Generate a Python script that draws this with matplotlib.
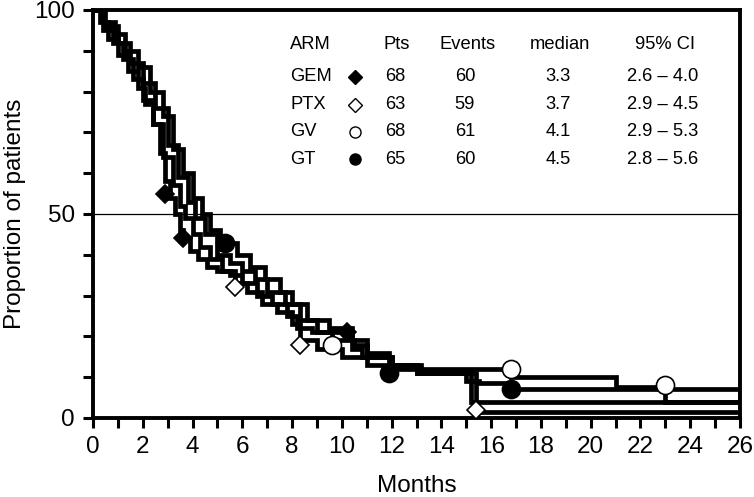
import matplotlib
matplotlib.use("Agg")
import matplotlib.pyplot as plt
from matplotlib.ticker import MultipleLocator

plt.rcParams['font.family'] = ['Liberation Sans', 'DejaVu Sans']

# Kaplan-Meier step data (months, % of patients)
gem_t = [0, 0.3, 0.6, 1.0, 1.4, 1.8, 2.1, 2.4, 2.7, 2.9, 3.1, 3.3, 3.5, 3.6, 3.9, 4.2, 4.6, 5.0, 5.5, 6.0, 6.6, 7.2, 7.8, 8.2, 8.8, 9.5, 10.4, 10.8, 12.0, 13.0, 15.2, 26]
gem_s = [100, 97, 93, 89, 85, 81, 77, 72, 65, 58, 54, 50, 46, 44, 41, 39, 37, 36, 35, 33, 30, 28, 25, 22, 21, 21, 17, 15, 13, 11, 4, 4]

ptx_t = [0, 0.4, 0.8, 1.2, 1.6, 2.0, 2.4, 2.8, 3.2, 3.5, 3.7, 4.0, 4.3, 4.7, 5.2, 5.7, 6.2, 6.8, 7.4, 8.0, 8.3, 9.0, 10.0, 11.0, 13.0, 15.4, 26]
ptx_s = [100, 95, 92, 88, 83, 78, 72, 64, 57, 52, 49, 45, 42, 39, 36, 33, 31, 28, 26, 23, 19, 17, 15, 13, 11, 1.5, 1.5]

gv_t = [0, 0.5, 1.0, 1.5, 2.0, 2.5, 3.0, 3.4, 3.8, 4.1, 4.5, 5.0, 5.5, 6.0, 6.5, 7.0, 7.7, 8.3, 9.0, 9.6, 10.5, 11.0, 12.0, 13.2, 15.2, 16.8, 21.0, 23.0, 26]
gv_s = [100, 96, 92, 87, 82, 76, 67, 59, 53, 49, 45, 40, 38, 36, 34, 31, 28, 24, 21, 19, 18, 15, 13, 12, 12, 10, 7.6, 4, 4]

gt_t = [0, 0.4, 0.9, 1.3, 1.8, 2.3, 2.8, 3.2, 3.6, 4.0, 4.4, 4.7, 5.1, 5.3, 5.8, 6.3, 6.9, 7.5, 8.0, 8.6, 9.5, 10.4, 11.0, 11.9, 13.0, 15.0, 15.5, 16.8, 26]
gt_s = [100, 97, 94, 90, 86, 80, 74, 66, 60, 54, 50, 46, 44, 43, 40, 37, 34, 31, 28, 24, 22, 19, 16, 12, 11, 9, 8.6, 7, 4]

# marker points along each curve
gem_mx, gem_my = [2.9, 3.6, 10.2], [55, 44, 21]
ptx_mx, ptx_my = [5.7, 8.3, 15.4], [32, 18, 2]
gv_mx, gv_my = [9.6, 16.8, 23.0], [18, 12, 8]
gt_mx, gt_my = [5.3, 11.9, 16.8], [43, 11, 7]

# summary table
arms = ['GEM', 'PTX', 'GV', 'GT']
pts = ['68', '63', '68', '65']
events = ['60', '59', '61', '60']
medians = ['3.3', '3.7', '4.1', '4.5']
ci = ['2.6 \u2013 4.0', '2.9 \u2013 4.5', '2.9 \u2013 5.3', '2.8 \u2013 5.6']

fig = plt.figure(figsize=(7.54, 4.97), dpi=100)
ax = fig.add_axes([93 / 754, 79 / 497, 647 / 754, 408 / 497])

ax.axhline(50, color='black', lw=0.9, zorder=1)

curves = [(gem_t, gem_s), (ptx_t, ptx_s), (gv_t, gv_s), (gt_t, gt_s)]
for t, s in curves:
    ax.plot(t, s, drawstyle='steps-post', color='black', lw=3.4,
            solid_joinstyle='miter', zorder=2)

mk = [(gem_mx, gem_my, 'D', 'black', 9),
      (ptx_mx, ptx_my, 'D', 'white', 9),
      (gv_mx, gv_my, 'o', 'white', 13),
      (gt_mx, gt_my, 'o', 'black', 13)]
for x, y, m, fc, ms in mk:
    ax.plot(x, y, ls='none', marker=m, mfc=fc, mec='black', mew=1.2,
            ms=ms, zorder=3)

ax.set_xlim(0, 26)
ax.set_ylim(0, 100)
ax.xaxis.set_major_locator(MultipleLocator(2))
ax.xaxis.set_minor_locator(MultipleLocator(1))
ax.yaxis.set_major_locator(MultipleLocator(50))
ax.yaxis.set_minor_locator(MultipleLocator(10))
ax.tick_params(which='both', direction='out', length=7, width=2.2,
               labelsize=17.5, pad=6)
for sp in ax.spines.values():
    sp.set_linewidth(2.8)

ax.set_xlabel('Months', fontsize=17.5, labelpad=12)
ax.set_ylabel('Proportion of patients', fontsize=17.5, labelpad=6)

# table inside plot (axes fraction)
def fx(px):
    return (px - 93) / 647

def fy(py):
    return (418 - py) / 408

fs = 13.2
hy = fy(45)
ax.text(fx(290), hy, 'ARM', fontsize=fs, ha='left', va='center', transform=ax.transAxes)
ax.text(fx(397), hy, 'Pts', fontsize=fs, ha='center', va='center', transform=ax.transAxes)
ax.text(fx(468), hy, 'Events', fontsize=fs, ha='center', va='center', transform=ax.transAxes)
ax.text(fx(560), hy, 'median', fontsize=fs, ha='center', va='center', transform=ax.transAxes)
ax.text(fx(665), hy, '95% CI', fontsize=fs, ha='center', va='center', transform=ax.transAxes)

row_y = [77, 105, 132, 159]
row_mk = [('D', 'black', 7), ('D', 'white', 7), ('o', 'white', 8), ('o', 'black', 8)]
for i in range(4):
    yy = fy(row_y[i])
    ax.text(fx(290), yy, arms[i], fontsize=fs, ha='left', va='center', transform=ax.transAxes)
    m, fc, ms = row_mk[i]
    ax.plot([fx(355)], [yy], marker=m, mfc=fc, mec='black', mew=1.0, ms=ms,
            transform=ax.transAxes, ls='none')
    ax.text(fx(395), yy, pts[i], fontsize=fs, ha='center', va='center', transform=ax.transAxes)
    ax.text(fx(465), yy, events[i], fontsize=fs, ha='center', va='center', transform=ax.transAxes)
    ax.text(fx(558), yy, medians[i], fontsize=fs, ha='center', va='center', transform=ax.transAxes)
    ax.text(fx(663), yy, ci[i], fontsize=fs, ha='center', va='center', transform=ax.transAxes)

fig.savefig('out.png', dpi=100)
